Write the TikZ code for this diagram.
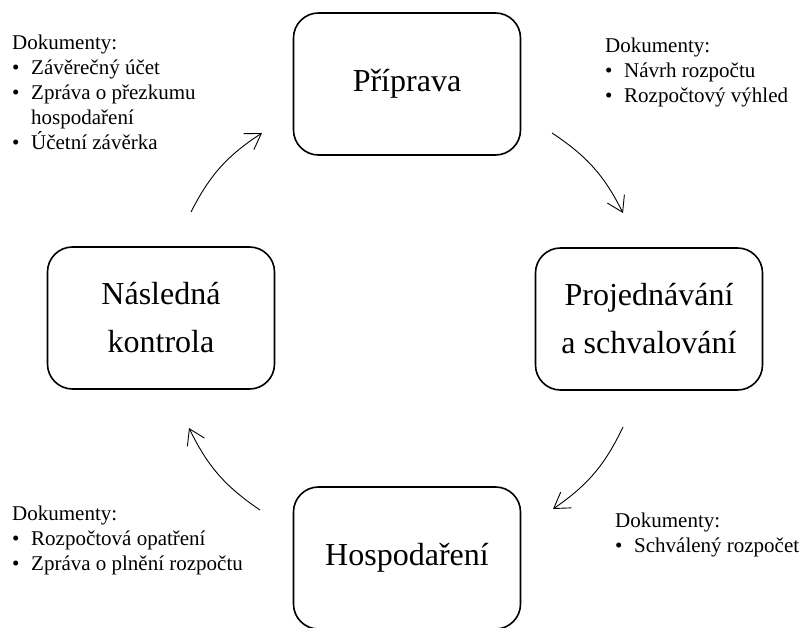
\documentclass[tikz,border=0pt]{standalone}
\usepackage{fontspec}
\setmainfont{Liberation Serif}
\usetikzlibrary{arrows.meta}

\newcommand{\bul}[1]{\makebox[19pt][l]{\textbullet}#1}
\newcommand{\cont}[1]{\hspace*{19pt}#1}

\begin{document}
\begin{tikzpicture}[
    x=1pt, y=-1pt,
    phase/.style={draw, line width=1.6pt, rounded corners=25pt, minimum width=227pt, minimum height=142pt, align=center, inner sep=0pt, font=\fontsize{32}{48}\selectfont},
    docs/.style={anchor=north west, align=left, inner sep=0pt, font=\fontsize{21}{25}\selectfont},
    flow/.style={-{Straight Barb[length=15pt, width=19pt]}, line width=0.9pt},
]
\useasboundingbox (0,0) rectangle (804,628);

% phases of the cycle
\node[phase] (priprava) at (407,84) {Příprava};
\node[phase] (projednavani) at (649,319) {Projednávání\\a schvalování};
\node[phase] (hospodareni) at (407,558) {Hospodaření};
\node[phase] (kontrola) at (161,318) {Následná\\kontrola};

% documents
\node[docs] (dockontrola) at (12,35) {Dokumenty:\\\bul{Závěrečný účet}\\\bul{Zpráva o přezkumu}\\\cont{hospodaření}\\\bul{Účetní závěrka}};
\node[docs] (docpriprava) at (605,38) {Dokumenty:\\\bul{Návrh rozpočtu}\\\bul{Rozpočtový výhled}};
\node[docs] (dochospodareni) at (12,506) {Dokumenty:\\\bul{Rozpočtová opatření}\\\bul{Zpráva o plnění rozpočtu}};
\node[docs] (docschvaleni) at (615,513) {Dokumenty:\\\bul{Schválený rozpočet}};

% arrow ends
\coordinate (k1) at (191,212);
\coordinate (p1) at (262,133);
\coordinate (p2) at (552,133);
\coordinate (s1) at (623,213);
\coordinate (s2) at (623,427);
\coordinate (h1) at (553,509);
\coordinate (h2) at (260,510);
\coordinate (k2) at (189,428);

% cycle arrows
\draw[flow] (k1) to[bend left=15] (p1);
\draw[flow] (p2) to[bend left=15] (s1);
\draw[flow] (s2) to[bend left=15] (h1);
\draw[flow] (h2) to[bend left=15] (k2);
\end{tikzpicture}
\end{document}
